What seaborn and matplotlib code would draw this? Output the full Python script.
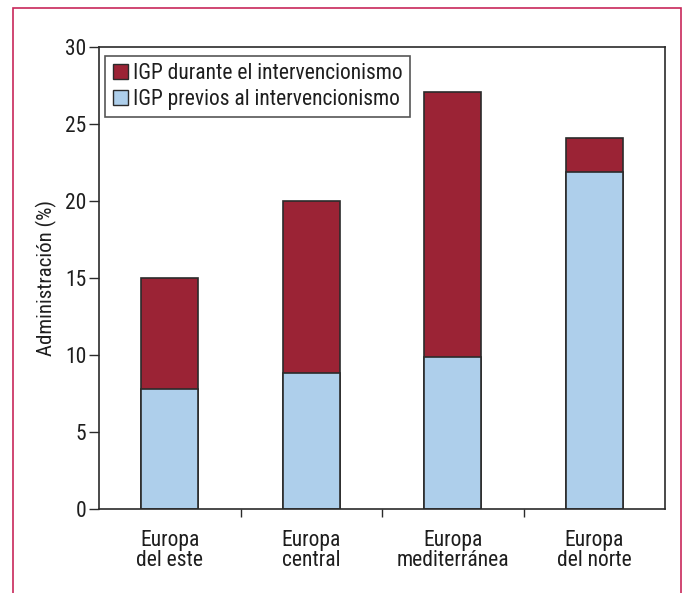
import matplotlib
matplotlib.use("Agg")
import matplotlib.pyplot as plt
import matplotlib.patches as mpatches
import seaborn as sns
import pandas as pd
import numpy as np

regiones = ["Europa\ndel este", "Europa\ncentral", "Europa\nmediterránea", "Europa\ndel norte"]
previos = [7.8, 8.8, 9.9, 21.9]
durante = [7.2, 11.2, 17.2, 2.2]
totales = [p + d for p, d in zip(previos, durante)]

rojo = "#9b2335"
azul = "#aecfeb"
borde = "#2b2b2b"
texto = "#1e1e1e"

sns.set_style("white")
plt.rcParams["font.family"] = ["Roboto Condensed", "DejaVu Sans"]

df = pd.DataFrame({"region": regiones, "previos": previos, "total": totales})

fig = plt.figure(figsize=(6.84, 5.93), dpi=100)
ax = fig.add_axes([99 / 684, 1 - 509 / 593, (665 - 99) / 684, (509 - 47) / 593])

# barra total (roja) y encima la parte previa (azul)
sns.barplot(data=df, x="region", y="total", color=rojo, width=0.4,
            edgecolor=borde, linewidth=1.2, saturation=1, ax=ax)
sns.barplot(data=df, x="region", y="previos", color=azul, width=0.4,
            edgecolor=borde, linewidth=1.2, saturation=1, ax=ax)

ax.set_ylim(0, 30)
ax.set_xlim(-0.5, len(regiones) - 0.5)
ax.set_yticks(range(0, 31, 5))
ax.set_xlabel("")
ax.set_ylabel("Administración (%)", fontsize=15, color=texto, labelpad=6)
ax.tick_params(axis="y", labelsize=15.5, length=7, width=1, color=borde,
               left=True, direction="out", labelcolor=texto, pad=2)
ax.tick_params(axis="x", which="major", length=0, labelsize=15.5,
               labelcolor=texto, pad=15)
for lbl in ax.get_xticklabels():
    lbl.set_linespacing(0.93)
ax.set_xticks(np.arange(0.5, len(regiones) - 1, 1), minor=True)
ax.tick_params(axis="x", which="minor", length=6, width=1, color=borde,
               bottom=True, direction="out")
for s in ax.spines.values():
    s.set_color(borde)
    s.set_linewidth(1.2)

handles = [mpatches.Patch(facecolor=rojo, edgecolor=borde, label="IGP durante el intervencionismo"),
           mpatches.Patch(facecolor=azul, edgecolor=borde, label="IGP previos al intervencionismo")]
leg = ax.legend(handles=handles, loc="upper left", bbox_to_anchor=(0.011, 0.981),
                fontsize=15.5, frameon=True, fancybox=False, handlelength=0.7,
                handleheight=0.7, handletextpad=0.25, borderpad=0.35,
                labelspacing=0.2, borderaxespad=0)
leg.get_frame().set_edgecolor(borde)
leg.get_frame().set_linewidth(1.2)
for t in leg.get_texts():
    t.set_color(texto)

marco = mpatches.Rectangle((13 / 684, -0.05), (681 - 13) / 684, 1.05 - 8 / 593,
                           transform=fig.transFigure, fill=False,
                           edgecolor="#c8285a", linewidth=1.2)
fig.patches.append(marco)

fig.savefig("out.png", dpi=100)
